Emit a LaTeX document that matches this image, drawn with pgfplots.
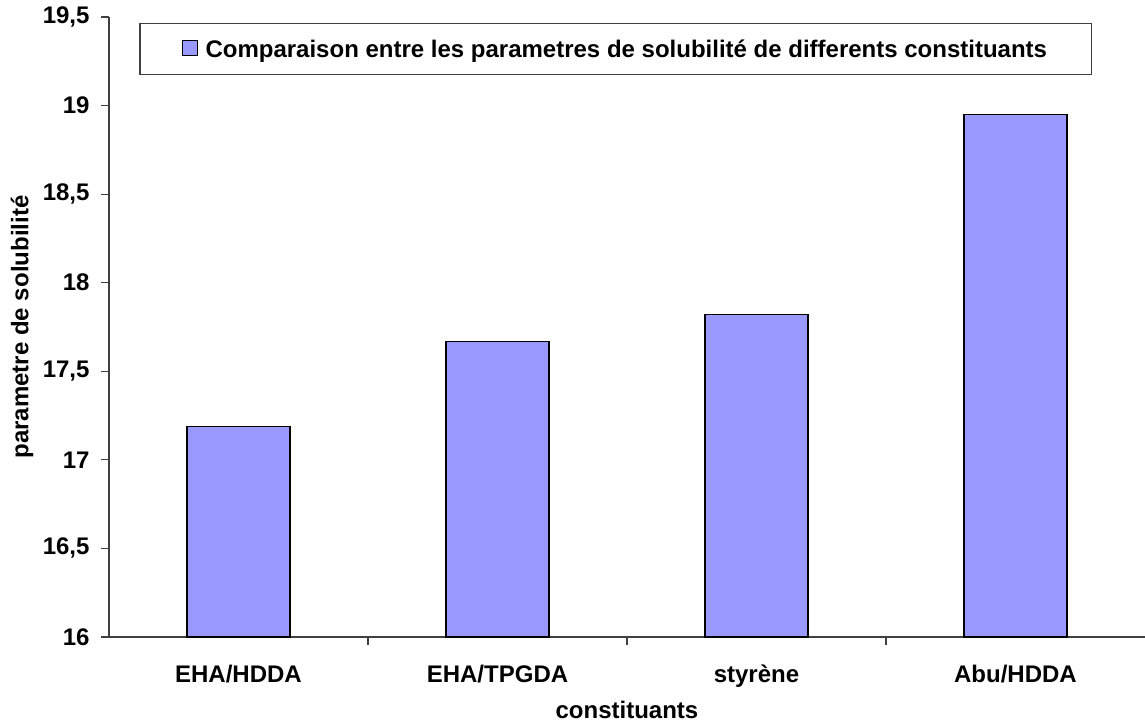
\documentclass[border=0pt]{standalone}
\usepackage{fontspec}
\setmainfont{Liberation Sans}
\usepackage{pgfplots}
\pgfplotsset{compat=1.18}
\definecolor{barblue}{HTML}{9999FF}
\definecolor{axgray}{HTML}{404040}
\newcommand{\cf}{\fontsize{24bp}{28bp}\selectfont\bfseries}
\begin{document}
\begin{tikzpicture}
\begin{axis}[
  scale only axis, width=1036bp, height=620bp,
  xmin=-0.5, xmax=3.5, ymin=16, ymax=19.5,
  axis x line=bottom, axis y line=left,
  axis line style={-, axgray, line width=1.2bp},
  tick align=outside, major tick length=8bp,
  tick style={axgray, line width=1.2bp},
  xtick={0.5,1.5,2.5}, xticklabels={},
  extra x ticks={0,1,2,3},
  extra x tick labels={EHA/HDDA,EHA/TPGDA,styrène,Abu/HDDA},
  extra x tick style={major tick length=0pt, tick style={draw=none}},
  xticklabel style={font=\cf, anchor=base, yshift=-45bp},
  ytick={16,16.5,17,17.5,18,18.5,19,19.5},
  yticklabel style={font=\cf, xshift=-8bp},
  /pgf/number format/assume math mode=true,
  /pgf/number format/use comma,
  /pgf/number format/fixed,
  xlabel={constituants},
  xlabel style={font=\cf, at={([yshift=-73bp]rel axis cs:0.5,0)}, anchor=center},
  ylabel={parametre de solubilité},
  ylabel style={font=\cf, at={([xshift=-87bp]rel axis cs:0,0.5)}, anchor=center, rotate=0},
  legend style={font=\cf, at={([yshift=-32bp]rel axis cs:0.489,1)}, anchor=center,
    draw=axgray, line width=1.2bp, inner xsep=42bp, inner ysep=14bp},
  legend image code/.code={\draw[fill=barblue, draw=black, line width=1bp] (0bp,-7bp) rectangle (15bp,8bp);
    \path[draw=none, fill=none] (0bp,0bp) -- (21bp,0bp);},
]
\addplot[ybar, bar width=103bp, bar shift=0pt, fill=barblue, draw=black, line width=1.2bp]
  coordinates {(0,17.19) (1,17.67) (2,17.82) (3,18.95)};
\addlegendentry{Comparaison entre les parametres de solubilité de differents constituants}
\end{axis}
\pgfresetboundingbox
\useasboundingbox (-109bp,-90bp) rectangle (1036bp,637bp);
\end{tikzpicture}
\end{document}
